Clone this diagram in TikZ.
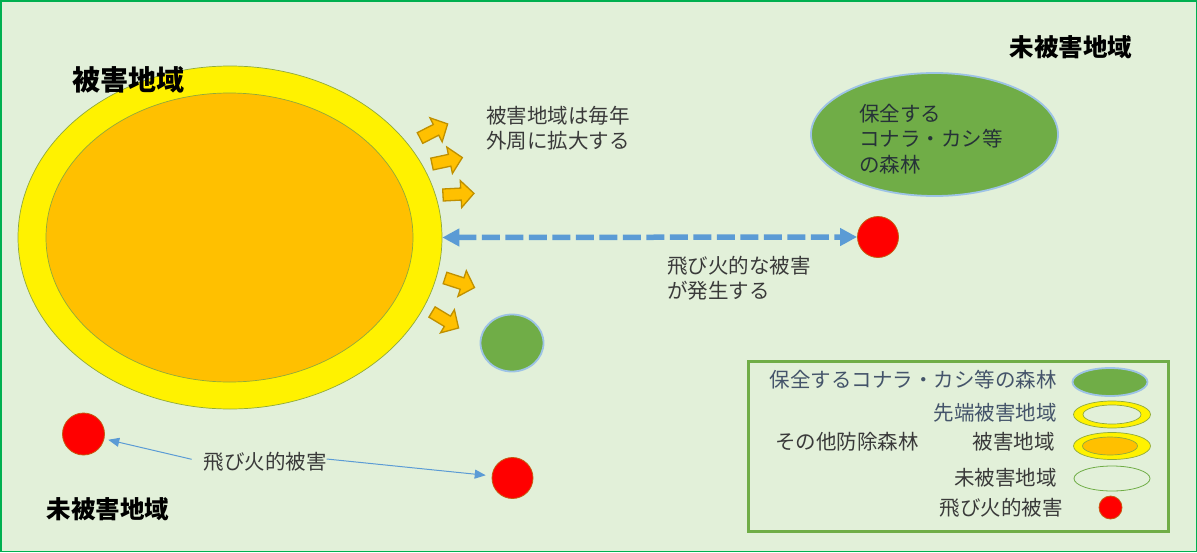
\documentclass[tikz,border=0pt]{standalone}
\usepackage{fontspec}
\setmainfont{Noto Sans CJK JP}
\usetikzlibrary{shapes.geometric,arrows.meta}
\definecolor{bg}{HTML}{E2F0D9}
\definecolor{frameg}{HTML}{00B050}
\definecolor{leafg}{HTML}{70AD47}
\definecolor{skyb}{HTML}{9DC3E6}
\definecolor{arrowb}{HTML}{5B9BD5}
\definecolor{gold}{HTML}{FFC000}
\definecolor{golddark}{HTML}{BF9000}
\definecolor{olive}{HTML}{8FAA3C}
\definecolor{rimred}{HTML}{C55A11}
\definecolor{legtext}{HTML}{44546A}
\definecolor{bodytext}{HTML}{3A3A3A}
\definecolor{inktext}{HTML}{263238}
\tikzset{
  pics/blockarr/.style={code={
    \draw[fill=gold, draw=golddark, line width=1.3pt, line join=miter]
      (0,-6) -- (18,-6) -- (18,-13.5) -- (31,0) -- (18,13.5) -- (18,6) -- (0,6) -- cycle;}},
  oval/.style={ellipse, inner sep=0pt, minimum width=#1},
  forest/.style={fill=leafg, draw=skyb, line width=1.8pt},
  spark/.style={circle, fill=red, draw=rimred, line width=0.8pt, inner sep=0pt, minimum size=#1},
  txt/.style={inner sep=0pt, text=bodytext, font=\fontsize{20.5pt}{25.5pt}\selectfont, align=left},
  legtxt/.style={inner sep=0pt, font=\fontsize{20.5pt}{25pt}\selectfont},
  bigtitle/.style={inner sep=0pt, text=black, font=\fontsize{28pt}{30pt}\selectfont\bfseries},
  title/.style={inner sep=0pt, text=black, font=\fontsize{24.5pt}{27pt}\selectfont\bfseries},
  thinarrow/.style={draw=arrowb, line width=1pt, -{Triangle[length=11pt,width=9pt]}},
}
\begin{document}
\begin{tikzpicture}[x=1pt,y=-1pt]
\useasboundingbox (0,0) rectangle (1197,552);
\fill[bg] (0,0) rectangle (1197,552);
\draw[frameg, line width=1.5pt] (0.75,0.75) rectangle (1196.25,551.25);

% damaged area
\node[oval=424pt, minimum height=343pt, fill=yellow, draw=olive, line width=0.7pt] (outer) at (230,237.5) {};
\node[oval=367pt, minimum height=289pt, fill=gold, draw=olive, line width=0.7pt] (inner) at (229.5,237.5) {};
\node[bigtitle] (damtitle) at (128,80) {被害地域};

% growth arrows
\pic[rotate=27] at (420,138) {blockarr};
\pic[rotate=12] at (432,164) {blockarr};
\pic[rotate=3] at (443,195) {blockarr};
\pic[rotate=-18] at (445,278) {blockarr};
\pic[rotate=-31] at (432,312) {blockarr};

\node[txt, anchor=west] (growtxt) at (486,128) {被害地域は毎年\\外周に拡大する};

% undamaged forest top right
\node[title] (undtitle1) at (1071,47) {未被害地域};
\node[oval=247pt, minimum height=123pt, forest] (bigforest) at (934.5,134.5) {};
\node[txt, text=inktext, anchor=west] (foresttxt) at (859,139) {保全する\\コナラ・カシ等\\の森林};

% spark at right
\node[spark=41pt] (dotR) at (878,237) {};
\draw[draw=arrowb, line width=5.5pt, dash pattern=on 18pt off 5.5pt,
  {Triangle[length=17pt,width=17pt]}-{Triangle[length=17pt,width=17pt]}] (outer.east) -- (dotR.west);
\node[txt, anchor=west] (sparktxt) at (667,278) {飛び火的な被害\\が発生する};

% small forest
\node[oval=63pt, minimum height=57pt, forest] (smallforest) at (512,343) {};

% bottom sparks
\node[spark=42pt] (dotBL) at (83.5,434) {};
\node[spark=41pt] (dotBR) at (512.5,478) {};
\node[txt] (firelbl) at (265,462) {飛び火的被害};
\draw[thinarrow, shorten <=12pt, shorten >=4pt] (firelbl.west) -- (dotBL);
\draw[thinarrow, shorten >=6pt] ([yshift=3pt]firelbl.east) -- (dotBR);
\node[title] (undtitle2) at (108,509) {未被害地域};

% legend
\node[draw=leafg, line width=3pt, minimum width=420pt, minimum height=170pt, inner sep=0pt] (legend) at (958.5,446.5) {};
\node[legtxt, text=legtext, anchor=east] (l1) at (1057,380) {保全するコナラ・カシ等の森林};
\node[oval=75pt, minimum height=28pt, forest] (k1) at (1110,382) {};
\node[legtxt, text=legtext, anchor=east] (l2) at (1057,413) {先端被害地域};
\node[oval=77pt, minimum height=27pt, fill=yellow, draw=olive, line width=0.7pt] (k2o) at (1112,414.5) {};
\node[oval=58pt, minimum height=19pt, fill=bg, draw=olive, line width=0.7pt] (k2i) at (1112,414.5) {};
\node[legtxt, text=bodytext, anchor=west] (l0) at (775,442) {その他防除森林};
\node[legtxt, text=bodytext, anchor=east] (l3) at (1055,442) {被害地域};
\node[oval=77pt, minimum height=27pt, fill=yellow, draw=olive, line width=0.7pt] (k3o) at (1112,446) {};
\node[oval=55pt, minimum height=18pt, fill=gold, draw=olive, line width=0.7pt] (k3i) at (1110,446) {};
\node[legtxt, text=bodytext, anchor=east] (l4) at (1057,478) {未被害地域};
\node[oval=76pt, minimum height=25pt, draw=leafg, line width=0.8pt] (k4) at (1112,478.5) {};
\node[legtxt, text=bodytext, anchor=east] (l5) at (1063,508) {飛び火的被害};
\node[spark=23pt] (k5) at (1110.5,507.5) {};
\end{tikzpicture}
\end{document}
